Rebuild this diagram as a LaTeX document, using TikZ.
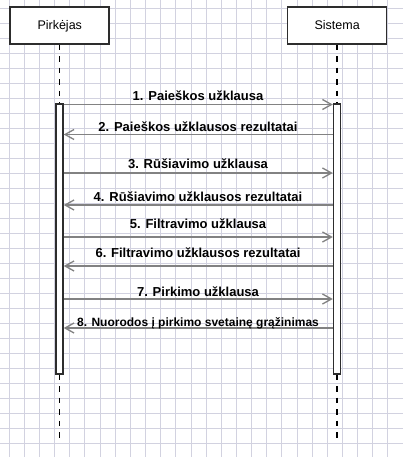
\documentclass[tikz,border=0pt]{standalone}
\usepackage{fontspec}
\setmainfont{Liberation Sans}
\usetikzlibrary{arrows.meta}
\definecolor{gridc}{RGB}{210,210,224}
\definecolor{boxc}{RGB}{45,45,45}
\definecolor{msgc}{RGB}{130,130,130}
\tikzset{
  actor/.style={draw=boxc, line width=1.5pt, fill=white, minimum width=99pt, minimum height=37pt, inner sep=0pt},
  actorlabel/.style={font=\fontsize{12.5}{14}\selectfont, anchor=base west, inner sep=0pt},
  actbar/.style={draw=boxc, line width=1.4pt, fill=white, minimum width=7pt, minimum height=270pt, inner sep=0pt},
  lifeline/.style={line width=1.4pt, dash pattern=on 5.5pt off 6pt},
  msg/.style={draw=msgc, line width=1.4pt, -{Straight Barb[length=9pt,width=10pt,line width=1.3pt]}},
  msglabel/.style={font=\bfseries\fontsize{13}{15}\selectfont, anchor=base, inner sep=0pt},
  msglabelsm/.style={font=\bfseries\fontsize{12}{14}\selectfont, anchor=base, inner sep=0pt}
}
\begin{document}
\begin{tikzpicture}[x=1pt, y=-1pt]
\useasboundingbox (0,0) rectangle (403,457);
\fill[white] (0,0) rectangle (403,457);
% grid
\foreach \i in {0,...,26} {
  \draw[gridc, line width=0.6pt] ({9+15.15*\i},0) -- ({9+15.15*\i},457);
}
\foreach \j in {0,...,30} {
  \draw[gridc, line width=0.6pt] (0,{8.3+15*\j}) -- (403,{8.3+15*\j});
}
% actors
\node[actor] (p) at (59.5,25.5) {};
\node[actor] (s) at (337,25.5) {};
\node[actorlabel] (pl) at (37.3,30) {Pirkėjas};
\node[actorlabel] (sl) at (314.4,30) {Sistema};
% activation bars
\node[actbar] (pa) at (59.5,239) {};
\node[actbar] (sa) at (337,239) {};
% lifelines
\coordinate (pend) at (59.5,440);
\coordinate (send) at (337,442);
\draw[lifeline] (p.south) -- (pa.north);
\draw[lifeline] (s.south) -- (sa.north);
\draw[lifeline] (pa.south) -- (pend);
\draw[lifeline] (sa.south) -- (send);
% message rows
\coordinate (m1) at (198,104.5);
\coordinate (m2) at (198,134.5);
\coordinate (m3) at (198,173);
\coordinate (m4) at (198,205);
\coordinate (m5) at (198,237);
\coordinate (m6) at (198,266);
\coordinate (m7) at (198,299);
\coordinate (m8) at (198,328);
\draw[msg] (pa.east |- m1) -- (sa.west |- m1);
\draw[msg] (sa.west |- m2) -- (pa.east |- m2);
\draw[msg] (pa.east |- m3) -- (sa.west |- m3);
\draw[msg] (sa.west |- m4) -- (pa.east |- m4);
\draw[msg] (pa.east |- m5) -- (sa.west |- m5);
\draw[msg] (sa.west |- m6) -- (pa.east |- m6);
\draw[msg] (pa.east |- m7) -- (sa.west |- m7);
\draw[msg] (sa.west |- m8) -- (pa.east |- m8);
% labels
\node[msglabel] (l1) at (198,101) {1. Paieškos užklausa};
\node[msglabel] (l2) at (198,131.5) {2. Paieškos užklausos rezultatai};
\node[msglabel] (l3) at (198,168) {3. Rūšiavimo užklausa};
\node[msglabel] (l4) at (198,201.5) {4. Rūšiavimo užklausos rezultatai};
\node[msglabel] (l5) at (198,228.5) {5. Filtravimo užklausa};
\node[msglabel] (l6) at (198,257.5) {6. Filtravimo užklausos rezultatai};
\node[msglabel] (l7) at (198,296) {7. Pirkimo užklausa};
\node[msglabelsm] (l8) at (198,326) {8. Nuorodos į pirkimo svetainę grąžinimas};
\end{tikzpicture}
\end{document}
